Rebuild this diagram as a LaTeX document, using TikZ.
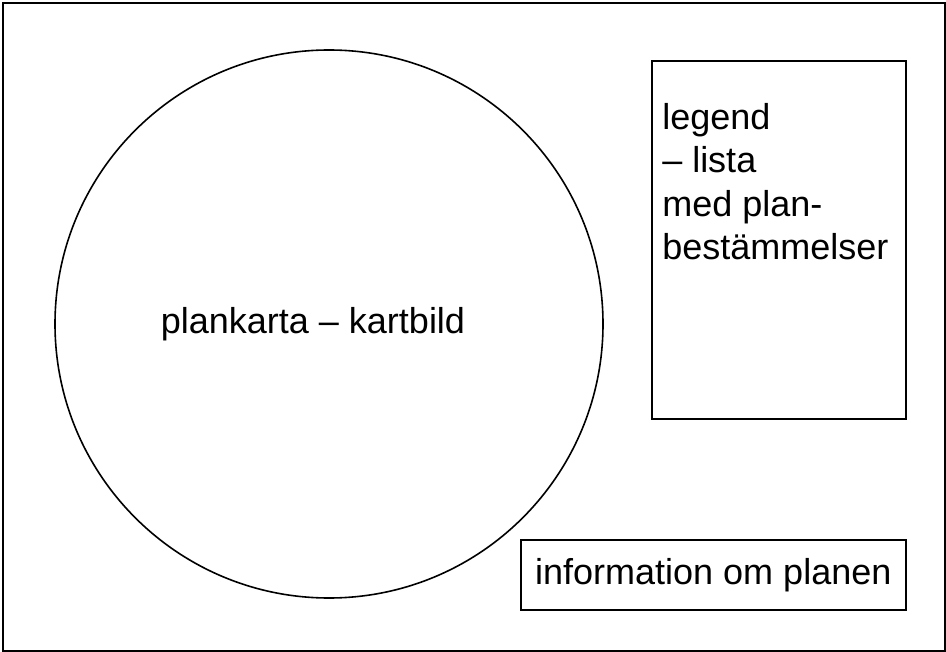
\documentclass[tikz,border=0pt]{standalone}
\usepackage{fontspec}
\setmainfont{Liberation Sans}
\begin{document}
\begin{tikzpicture}[x=0.75pt,y=-0.75pt,
  box/.style={draw,line width=1.2pt},
  lbl/.style={font=\fontsize{27}{32.5}\selectfont}]
\useasboundingbox (0,0) rectangle (946,652);
\node[box,draw,minimum width=942*0.75pt,minimum height=648*0.75pt,inner sep=0,anchor=north west] (frame) at (2,2) {};
\node[box,circle,minimum size=548*0.75pt,inner sep=0] (map) at (329,324) {};
\node[lbl] (maplbl) at (313,324) {plankarta – kartbild};
\node[box,minimum width=254*0.75pt,minimum height=358*0.75pt,inner sep=0,anchor=north west] (legend) at (651,60) {};
\node[lbl,anchor=north west,align=left,inner sep=0] (legtxt) at (662,103) {legend\\– lista\\med plan-\\bestämmelser};
\node[box,minimum width=385*0.75pt,minimum height=70*0.75pt,inner sep=0,anchor=north west] (info) at (520,539) {};
\node[lbl] (infotxt) at (info.center) {information om planen};
\end{tikzpicture}
\end{document}
